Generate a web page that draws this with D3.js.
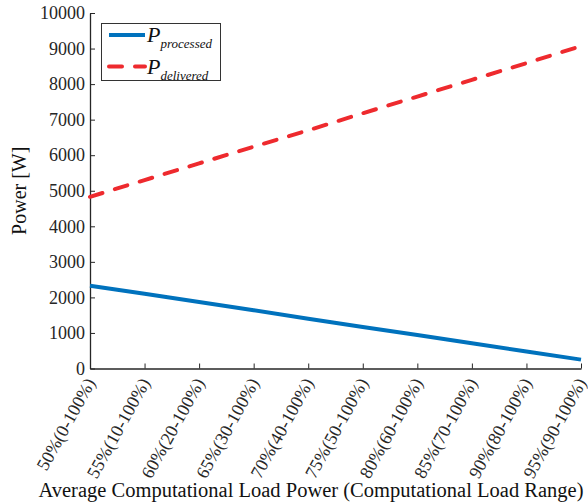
<!DOCTYPE html>
<html>
<head>
<meta charset="utf-8">
<script src="https://cdn.jsdelivr.net/npm/d3@7"></script>
<style>
  body { margin: 0; background: #fff; }
  svg { display: block; font-family: "Liberation Serif", "Times New Roman", serif; }
  .axis path, .axis line { stroke: #262626; }
  .axis text { fill: #262626; font-size: 18px; font-family: "Liberation Serif", serif; }
</style>
</head>
<body>
<svg width="588" height="504"></svg>
<script>
// categories on the x axis
var categories = ["50%(0-100%)", "55%(10-100%)", "60%(20-100%)", "65%(30-100%)", "70%(40-100%)",
                  "75%(50-100%)", "80%(60-100%)", "85%(70-100%)", "90%(80-100%)", "95%(90-100%)"];
// series values (W)
var processed = [2330, 2100, 1870, 1640, 1400, 1170, 940, 710, 480, 250];
var delivered = [4830, 5300, 5770, 6240, 6700, 7180, 7650, 8120, 8590, 9070];
// y tick values
var yTicks = [0, 1000, 2000, 3000, 4000, 5000, 6000, 7000, 8000, 9000, 10000];

var svg = d3.select("svg");
var m = {left: 90, right: 581, top: 13, bottom: 368.5};

var x = d3.scalePoint().domain(categories).range([m.left, m.right]);
var y = d3.scaleLinear().domain([0, 10000]).range([m.bottom, m.top]);

// axes (ticks pointing inside like matlab)
var yAxis = svg.append("g")
    .attr("class", "axis")
    .attr("transform", "translate(" + m.left + ",0)")
    .call(d3.axisLeft(y).tickValues(yTicks).tickFormat(d3.format("d"))
      .tickSizeInner(-5).tickSizeOuter(0).tickPadding(5));

var xAxis = svg.append("g")
    .attr("class", "axis")
    .attr("transform", "translate(0," + m.bottom + ")")
    .call(d3.axisBottom(x).tickSizeInner(-5).tickSizeOuter(0).tickPadding(0));

xAxis.selectAll("text")
    .attr("y", 0)
    .attr("dy", "0.35em")
    .attr("text-anchor", "end")
    .attr("transform", "translate(0,11) rotate(-61)");

svg.selectAll(".axis")
    .attr("font-family", "Liberation Serif, serif")
    .attr("font-size", 18);
svg.selectAll(".axis path").attr("stroke-width", 1.3);

// lines
var line = d3.line()
    .x(function(d, i) { return x(categories[i]); })
    .y(function(d) { return y(d); });

svg.append("path")
    .datum(processed)
    .attr("fill", "none")
    .attr("stroke", "#0072BD")
    .attr("stroke-width", 4)
    .attr("d", line);

svg.append("path")
    .datum(delivered)
    .attr("fill", "none")
    .attr("stroke", "#EE2A2E")
    .attr("stroke-width", 4)
    .attr("stroke-linecap", "round")
    .attr("stroke-dasharray", "13,13")
    .attr("d", line);

// axis titles
svg.append("text")
    .attr("transform", "translate(26," + ((m.top + m.bottom) / 2) + ") rotate(-90)")
    .attr("text-anchor", "middle")
    .attr("font-size", 20)
    .attr("fill", "#111")
    .text("Power [W]");

svg.append("text")
    .attr("x", 311)
    .attr("y", 497)
    .attr("text-anchor", "middle")
    .attr("font-size", 20.5)
    .attr("fill", "#111")
    .text("Average Computational Load Power (Computational Load Range)");

// legend
var legend = svg.append("g");
legend.append("rect")
    .attr("x", 101.5).attr("y", 23.5)
    .attr("width", 119).attr("height", 57)
    .attr("fill", "#fff")
    .attr("stroke", "#333")
    .attr("stroke-width", 1);

var items = [
  {sub: "processed", color: "#0072BD", dash: null},
  {sub: "delivered", color: "#EE2A2E", dash: "13,13"}
];
items.forEach(function(d, i) {
  var ly = 35 + i * 31.5;
  legend.append("line")
      .attr("x1", 109).attr("x2", 145)
      .attr("y1", ly).attr("y2", ly)
      .attr("stroke", d.color)
      .attr("stroke-width", 4)
      .attr("stroke-linecap", d.dash ? "round" : "butt")
      .attr("stroke-dasharray", d.dash);
  var t = legend.append("text")
      .attr("x", 147).attr("y", ly + 7)
      .attr("font-style", "italic")
      .attr("fill", "#111");
  t.append("tspan").attr("font-size", 22).text("P");
  t.append("tspan").attr("font-size", 13).attr("dy", 6).text(d.sub);
});
</script>
</body>
</html>
